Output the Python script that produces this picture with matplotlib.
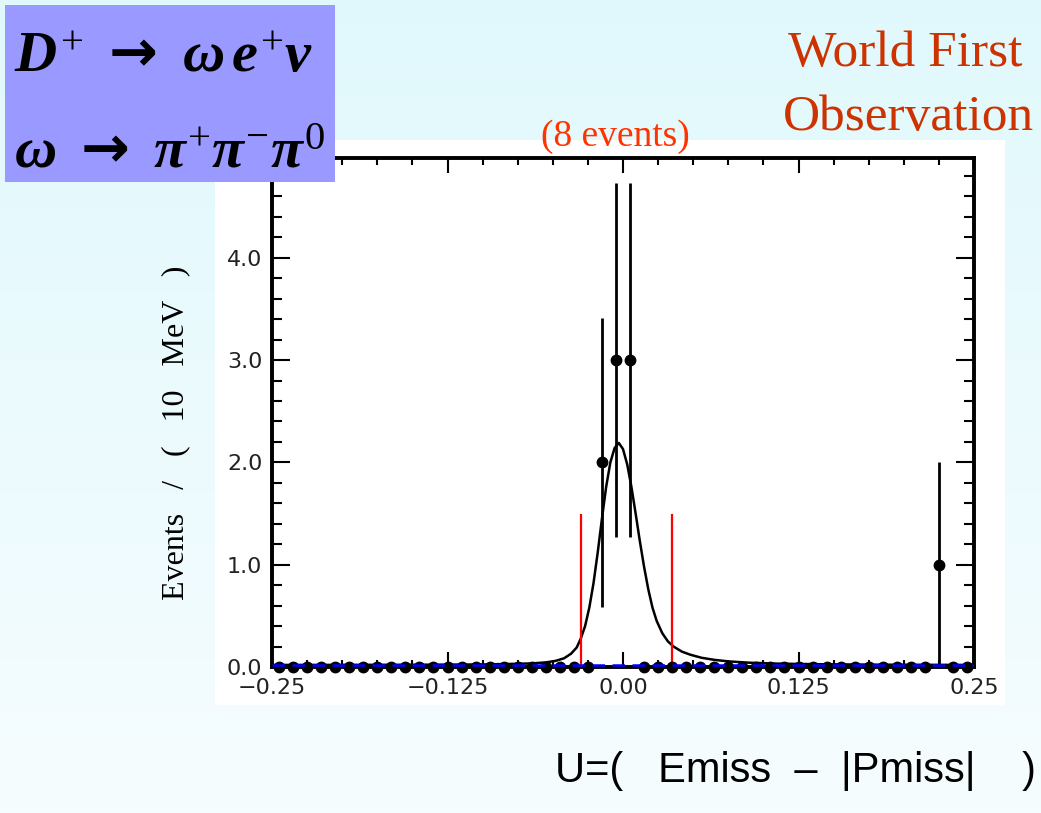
import numpy as np
import matplotlib
matplotlib.use("Agg")
import matplotlib.pyplot as plt
from matplotlib.patches import Rectangle
from matplotlib.ticker import MultipleLocator, FixedLocator

# --- data ---
bin_centers = np.round(np.arange(-0.245, 0.25, 0.01), 3)   # 10 MeV bins
counts = [0, 0, 0, 0, 0, 0, 0, 0, 0, 0,
          0, 0, 0, 0, 0, 0, 0, 0, 0, 0,
          0, 0, 0, 2, 3, 3, 0, 0, 0, 0,
          0, 0, 0, 0, 0, 0, 0, 0, 0, 0,
          0, 0, 0, 0, 0, 0, 0, 1, 0, 0]
errors = [0, 0, 0, 0, 0, 0, 0, 0, 0, 0,
          0, 0, 0, 0, 0, 0, 0, 0, 0, 0,
          0, 0, 0, 1.414, 1.732, 1.732, 0, 0, 0, 0,
          0, 0, 0, 0, 0, 0, 0, 0, 0, 0,
          0, 0, 0, 0, 0, 0, 0, 1.0, 0, 0]

# fit curve
fit_x = [-0.25, -0.15, -0.10, -0.08, -0.065, -0.055, -0.048, -0.042, -0.037, -0.033,
         -0.030, -0.027, -0.024, -0.021, -0.018, -0.015, -0.012, -0.009, -0.006, -0.003,
         0.000, 0.003, 0.006, 0.009, 0.012, 0.015, 0.018, 0.021, 0.024, 0.028,
         0.032, 0.036, 0.042, 0.048, 0.056, 0.065, 0.075, 0.09, 0.11, 0.14, 0.18, 0.25]
fit_y = [0.02, 0.022, 0.025, 0.03, 0.035, 0.045, 0.06, 0.085, 0.13, 0.19,
         0.28, 0.40, 0.58, 0.82, 1.12, 1.45, 1.76, 2.00, 2.14, 2.19,
         2.13, 1.98, 1.76, 1.50, 1.23, 0.98, 0.76, 0.58, 0.45, 0.33,
         0.25, 0.20, 0.15, 0.12, 0.09, 0.07, 0.055, 0.042, 0.033, 0.027, 0.023, 0.02]
bkg_level = 0.02
cut_lines = [-0.030, 0.035]
cut_height = 1.5

xtick_vals = [-0.25, -0.125, 0.0, 0.125, 0.25]
xtick_labels = ["\u22120.25", "\u22120.125", "0.00", "0.125", "0.25"]
ytick_vals = [0, 1, 2, 3, 4]
ytick_labels = ["0.0", "1.0", "2.0", "3.0", "4.0"]

W, H = 1041, 813
def fx(x): return x / W
def fy(y): return 1 - y / H

plt.rcParams['mathtext.fontset'] = 'custom'
plt.rcParams['mathtext.it'] = 'Liberation Serif:italic:bold'
plt.rcParams['mathtext.rm'] = 'Liberation Serif'
plt.rcParams['mathtext.bf'] = 'Liberation Serif:bold'
plt.rcParams['mathtext.sf'] = 'DejaVu Sans:bold'

fig = plt.figure(figsize=(W / 100, H / 100), dpi=100)

# slide background gradient + white plot panel
bg = fig.add_axes([0, 0, 1, 1], zorder=-5)
grad = np.linspace(0, 1, 256).reshape(-1, 1)
top = np.array([0.88, 0.975, 0.99])
bot = np.array([0.965, 0.99, 1.0])
img = top[None, None, :] * (1 - grad[:, :, None]) + bot[None, None, :] * grad[:, :, None]
bg.imshow(img, aspect='auto', extent=[0, 1, 0, 1], origin='upper')
bg.add_patch(Rectangle((fx(215), fy(705)), fx(1005) - fx(215), fy(140) - fy(705),
                       facecolor='white', edgecolor='none'))
bg.set_xlim(0, 1); bg.set_ylim(0, 1)
bg.axis('off')

# main plot
ax = fig.add_axes([fx(272), fy(667), fx(974) - fx(272), fy(158) - fy(667)])
ax.set_facecolor('none')

bc = np.array(bin_centers)
cn = np.array(counts)
er = np.array(errors)
ax.plot(fit_x, fit_y, color='black', lw=1.8, zorder=3)
ax.vlines(cut_lines, 0, cut_height, color='red', lw=1.6, zorder=4)
ax.errorbar(bc, cn, yerr=er, fmt='o', color='black', ms=7.5, elinewidth=2.0,
            capsize=0, zorder=5, clip_on=False)
ax.axhline(bkg_level, color='blue', lw=1.8, ls=(0, (5, 3)), zorder=6)

ax.set_xlim(-0.25, 0.25)
ax.set_ylim(0, 4.975)
ax.xaxis.set_major_locator(FixedLocator(xtick_vals))
ax.set_xticklabels(xtick_labels)
ax.xaxis.set_minor_locator(MultipleLocator(0.025))
ax.yaxis.set_major_locator(FixedLocator(ytick_vals))
ax.set_yticklabels(ytick_labels)
ax.yaxis.set_minor_locator(MultipleLocator(0.2))

ax.tick_params(axis='both', which='both', direction='in', top=True, right=True,
               colors='black', width=1.5)
ax.tick_params(axis='x', which='major', length=11, pad=8, labelsize=16, labelcolor='#222222')
ax.tick_params(axis='x', which='minor', length=5)
ax.tick_params(axis='y', which='major', length=13, pad=7, labelsize=16, labelcolor='#222222')
ax.tick_params(axis='y', which='minor', length=7)
for s in ax.spines.values():
    s.set_linewidth(2.8)

# y label
fig.text(fx(176), fy(433), "Events   /   (   10   MeV   )", rotation=90,
         ha='center', va='center', fontsize=23, family='Liberation Serif', color='black')

# decay box
fig.patches.append(Rectangle((fx(5), fy(182)), fx(335) - fx(5), fy(5) - fy(182),
                             facecolor='#9999ff', edgecolor='none', transform=fig.transFigure,
                             zorder=10))
fig.text(fx(14), fy(72), r'$D^{+}\ \mathsf{\rightarrow}\ \omega\, e^{+}\nu$', fontsize=42,
         ha='left', va='baseline', zorder=11)
fig.text(fx(14), fy(167), r'$\omega\ \mathsf{\rightarrow}\ \pi^{+}\pi^{-}\pi^{0}$', fontsize=42,
         ha='left', va='baseline', zorder=11)

# annotations
fig.text(fx(905), fy(66), "World First", fontsize=37, family='Liberation Serif',
         color='#cc3300', ha='center', va='baseline')
fig.text(fx(908), fy(130), "Observation", fontsize=37, family='Liberation Serif',
         color='#cc3300', ha='center', va='baseline')
fig.text(fx(615), fy(146), "(8 events)", fontsize=27, family='Liberation Serif',
         color='#ff3300', ha='center', va='baseline')
fig.text(fx(555), fy(782), "U=(   Emiss  \u2013  |Pmiss|    )", fontsize=30,
         family='Liberation Sans', color='black', ha='left', va='baseline')

fig.savefig("out.png", dpi=100)
